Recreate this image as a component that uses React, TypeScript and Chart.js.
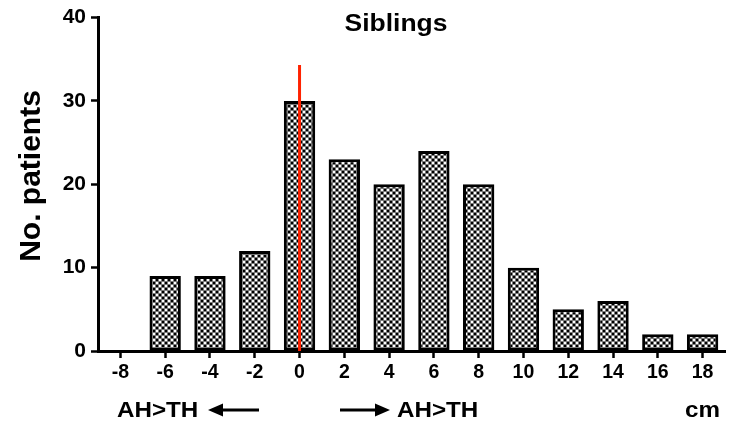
import React, { useEffect, useRef } from "react";
import { Chart, registerables } from "chart.js";

Chart.register(...registerables);

const categories = ["-8", "-6", "-4", "-2", "0", "2", "4", "6", "8", "10", "12", "14", "16", "18"];
const patients = [0, 9, 9, 12, 30, 23, 20, 24, 20, 10, 5, 6, 2, 2];
const yMin = 0;
const yMax = 40;
const yStep = 10;
const markerCategory = "0";
const markerTop = 34.3;
const titleText = "Siblings";
const yTitleText = "No. patients";
const leftLabel = "AH>TH";
const rightLabel = "AH>TH";
const unitLabel = "cm";

const FONT = "'Liberation Sans', Arial, Helvetica, sans-serif";

function makePattern(): CanvasPattern | string {
  const c = document.createElement("canvas");
  c.width = 6;
  c.height = 6;
  const g = c.getContext("2d");
  if (!g) return "#888";
  for (let y = 0; y < 6; y++) {
    for (let x = 0; x < 6; x++) {
      let col: string;
      if (x % 3 === 2 || y % 3 === 2) col = "#7a7a7a";
      else col = (x < 3) !== (y < 3) ? "#000" : "#fff";
      g.fillStyle = col;
      g.fillRect(x, y, 1, 1);
    }
  }
  const p = g.createPattern(c, "repeat");
  return p || "#888";
}

function drawArrow(ctx: CanvasRenderingContext2D, x1: number, x2: number, y: number) {
  const dir = x2 > x1 ? 1 : -1;
  const headLen = 15;
  ctx.save();
  ctx.strokeStyle = "#000";
  ctx.fillStyle = "#000";
  ctx.lineWidth = 3;
  ctx.beginPath();
  ctx.moveTo(x1, y);
  ctx.lineTo(x2 - dir * headLen, y);
  ctx.stroke();
  ctx.beginPath();
  ctx.moveTo(x2, y);
  ctx.lineTo(x2 - dir * headLen, y - 6.5);
  ctx.lineTo(x2 - dir * headLen, y + 6.5);
  ctx.closePath();
  ctx.fill();
  ctx.restore();
}

function drawScaledText(ctx: CanvasRenderingContext2D, text: string, x: number, y: number, size: number, sx: number, align: CanvasTextAlign) {
  ctx.save();
  ctx.translate(x, y);
  ctx.scale(sx, 1);
  ctx.font = `bold ${size}px ${FONT}`;
  ctx.fillStyle = "#000";
  ctx.textAlign = align;
  ctx.textBaseline = "alphabetic";
  ctx.fillText(text, 0, 0);
  ctx.restore();
}

const annotations = {
  id: "annotations",
  afterDatasetsDraw(chart: any) {
    const ctx: CanvasRenderingContext2D = chart.ctx;
    const xs = chart.scales.x;
    const ys = chart.scales.y;
    const area = chart.chartArea;

    const mx = xs.getPixelForValue(categories.indexOf(markerCategory));
    ctx.save();
    ctx.strokeStyle = "#ff2200";
    ctx.lineWidth = 3;
    ctx.beginPath();
    ctx.moveTo(mx, ys.getPixelForValue(yMin));
    ctx.lineTo(mx, ys.getPixelForValue(markerTop));
    ctx.stroke();
    ctx.restore();

    drawScaledText(ctx, titleText, 396, 31, 23, 1.15, "center");

    ctx.save();
    ctx.translate(40, 176);
    ctx.rotate(-Math.PI / 2);
    ctx.font = `bold 30px ${FONT}`;
    ctx.fillStyle = "#000";
    ctx.textAlign = "center";
    ctx.textBaseline = "alphabetic";
    ctx.fillText(yTitleText, 0, 0);
    ctx.restore();

    const by = 417;
    drawScaledText(ctx, leftLabel, 117, by, 22, 1.1, "left");
    drawArrow(ctx, 259, 208, 410);
    drawArrow(ctx, 340, 390, 410);
    drawScaledText(ctx, rightLabel, 397, by, 22, 1.1, "left");
    drawScaledText(ctx, unitLabel, area.right - 5, by, 22, 1.1, "right");
  },
};

export default function App() {
  const ref = useRef<HTMLCanvasElement | null>(null);

  useEffect(() => {
    if (!ref.current) return;
    const pattern = makePattern();
    const chart = new Chart(ref.current, {
      type: "bar",
      data: {
        labels: categories,
        datasets: [
          {
            data: patients,
            backgroundColor: pattern as any,
            borderColor: "#000",
            borderWidth: 3,
            borderSkipped: false,
            categoryPercentage: 1,
            barPercentage: 0.7,
          },
        ],
      },
      options: {
        responsive: false,
        animation: false,
        layout: { padding: { left: 0, right: 15, top: 15, bottom: 0 } },
        plugins: {
          legend: { display: false },
          tooltip: { enabled: false },
          title: { display: false },
        },
        scales: {
          x: {
            type: "category",
            offset: true,
            afterFit(scale: any) {
              scale.height = 76;
            },
            border: { display: true, color: "#000", width: 3 },
            grid: {
              display: true,
              drawOnChartArea: false,
              drawTicks: true,
              tickLength: 7,
              tickColor: "#000",
              tickWidth: 2.5,
              offset: false,
            },
            ticks: {
              color: "#000",
              font: { family: FONT, size: 19.5, weight: "bold" },
              padding: 3,
              maxRotation: 0,
              autoSkip: false,
            },
          },
          y: {
            min: yMin,
            max: yMax,
            afterFit(scale: any) {
              scale.width = 98;
            },
            border: { display: true, color: "#000", width: 3 },
            grid: {
              display: true,
              drawOnChartArea: false,
              drawTicks: true,
              tickLength: 7,
              tickColor: "#000",
              tickWidth: 2.5,
            },
            ticks: {
              stepSize: yStep,
              color: "#000",
              font: { family: FONT, size: 21, weight: "bold" },
              padding: 5,
            },
          },
        },
      },
      plugins: [annotations],
    });
    return () => chart.destroy();
  }, []);

  return (
    <div style={{ position: "fixed", left: 0, top: 0, width: 740, height: 427, background: "#fff" }}>
      <canvas ref={ref} width={740} height={427} style={{ display: "block" }} />
    </div>
  );
}
